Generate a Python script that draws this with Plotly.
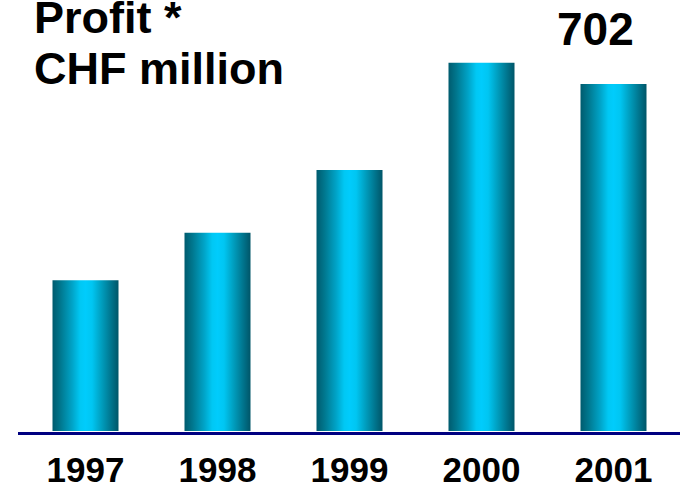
import plotly.graph_objects as go

years = ["1997", "1998", "1999", "2000", "2001"]
profit = [305, 401, 528, 745, 702]
title_lines = ["Profit *", "CHF million"]
highlight_label = "702"

W, H = 681, 487
ml, mr, mt, mb = 18, 1, 0, 55
pw, ph = W - ml - mr, H - mt - mb

FONT = "Arial, Liberation Sans, sans-serif"
grad = [[0.0, "#005b6e"], [0.12, "#00778e"], [0.3, "#00a4c8"], [0.42, "#00c8f4"],
        [0.5, "#00ccfc"], [0.6, "#00c6f2"], [0.75, "#009cbc"], [0.9, "#007189"], [1.0, "#005568"]]

fig = go.Figure()
half = 0.25
for i, v in enumerate(profit):
    fig.add_trace(go.Scatter(
        x=[i - half, i + half, i + half, i - half, i - half],
        y=[0, 0, v, v, 0],
        mode="lines", line=dict(width=0), fill="toself",
        fillgradient=dict(type="horizontal", colorscale=grad),
        hoverinfo="skip", showlegend=False))

def px_x(px):
    return (px - ml) / pw

def px_y(py):
    return 1 - (py - mt) / ph

fig.add_annotation(x=px_x(32), y=px_y(18), xref="paper", yref="paper", xanchor="left", yanchor="middle",
                   text=title_lines[0], showarrow=False,
                   font=dict(family=FONT, size=45, color="black", weight="bold"))
fig.add_annotation(x=px_x(32), y=px_y(68), xref="paper", yref="paper", xanchor="left", yanchor="middle",
                   text=title_lines[1], showarrow=False,
                   font=dict(family=FONT, size=45, color="black", weight="bold"))
fig.add_annotation(x=px_x(595), y=px_y(29), xref="paper", yref="paper", xanchor="center", yanchor="middle",
                   text=highlight_label, showarrow=False,
                   font=dict(family=FONT, size=46, color="black", weight="bold"))

fig.update_layout(
    width=W, height=H,
    margin=dict(l=ml, r=mr, t=mt, b=mb, pad=0, autoexpand=False),
    paper_bgcolor="white", plot_bgcolor="white",
    xaxis=dict(range=[(ml - 85.5) / 132, (W - mr - 85.5) / 132],
               tickvals=list(range(len(years))), ticktext=years,
               showgrid=False, zeroline=False, showline=True, linecolor="#000080", linewidth=3,
               ticks="outside", ticklen=5, tickcolor="rgba(0,0,0,0)",
               tickfont=dict(family=FONT, size=35, color="black", weight="bold"),
               automargin=False, fixedrange=True),
    yaxis=dict(range=[-2, 872], visible=False, fixedrange=True, automargin=False),
    showlegend=False,
)

fig.write_html("out.html")
